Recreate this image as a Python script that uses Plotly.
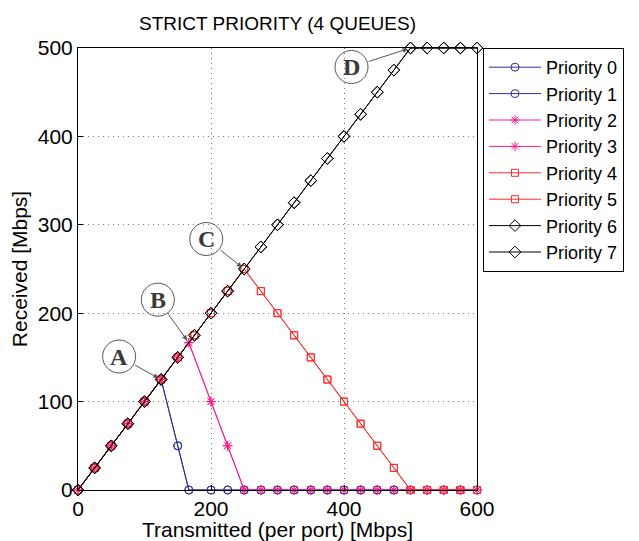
import numpy as np
import plotly.graph_objects as go

# ---------------- data ----------------
x_p01 = [0, 25, 50, 75, 100, 125, 150, 166.67, 200, 225, 250, 275, 300, 325, 350, 375,
         400, 425, 450, 475, 500, 525, 550, 575, 600]
y_p01 = [0, 25, 50, 75, 100, 125, 50, 0, 0, 0, 0, 0, 0, 0, 0, 0,
         0, 0, 0, 0, 0, 0, 0, 0, 0]

x_p23 = [0, 25, 50, 75, 100, 125, 150, 166.67, 200, 225, 250, 275, 300, 325, 350, 375,
         400, 425, 450, 475, 500, 525, 550, 575, 600]
y_p23 = [0, 25, 50, 75, 100, 125, 150, 166.67, 100, 50, 0, 0, 0, 0, 0, 0,
         0, 0, 0, 0, 0, 0, 0, 0, 0]

x_p45 = [0, 25, 50, 75, 100, 125, 150, 175, 200, 225, 250, 275, 300, 325, 350, 375,
         400, 425, 450, 475, 500, 525, 550, 575, 600]
y_p45 = [0, 25, 50, 75, 100, 125, 150, 175, 200, 225, 250, 225, 200, 175, 150, 125,
         100, 75, 50, 25, 0, 0, 0, 0, 0]

x_p67 = [0, 25, 50, 75, 100, 125, 150, 175, 200, 225, 250, 275, 300, 325, 350, 375,
         400, 425, 450, 475, 500, 525, 550, 575, 600]
y_p67 = [0, 25, 50, 75, 100, 125, 150, 175, 200, 225, 250, 275, 300, 325, 350, 375,
         400, 425, 450, 475, 500, 500, 500, 500, 500]

series_names = ["Priority 0", "Priority 1", "Priority 2", "Priority 3",
                "Priority 4", "Priority 5", "Priority 6", "Priority 7"]
x_ticks = [0, 200, 400, 600]
y_ticks = [0, 100, 200, 300, 400, 500]
labels = ["A", "B", "C", "D"]

# ---------------- style ----------------
BLUE = "#2f2fa0"
PINK = "#ff1a8c"
RED = "#ff2a2a"
BLACK = "#000000"
FONT = "Liberation Sans, Arial, sans-serif"

styles = [
    (x_p01, y_p01, BLUE, "circle-open", 8),
    (x_p01, y_p01, BLUE, "circle-open", 8),
    (x_p23, y_p23, PINK, "asterisk-open", 8),
    (x_p23, y_p23, PINK, "asterisk-open", 8),
    (x_p45, y_p45, RED, "square-open", 7),
    (x_p45, y_p45, RED, "square-open", 7),
    (x_p67, y_p67, BLACK, "diamond-open", 9),
    (x_p67, y_p67, BLACK, "diamond-open", 9),
]

fig = go.Figure()
for name, (xs, ys, col, sym, sz) in zip(series_names, styles):
    fig.add_trace(go.Scatter(
        x=xs, y=ys, name=name, mode="lines+markers",
        line=dict(color=col, width=1),
        marker=dict(symbol=sym, size=sz, color=col, line=dict(color=col, width=1)),
        cliponaxis=False,
    ))

# knee points (from data)
def knee(xs, ys):
    i = int(np.argmax(ys))
    return xs[i], ys[i]

targets = [knee(x_p01, y_p01), knee(x_p23, y_p23), knee(x_p45, y_p45), knee(x_p67, y_p67)]
# circle centre offsets in screen pixels (dx right, dy down)
offsets = [(-42, -23), (-31, -43), (-38, -30), (-59, 19)]
R = 16.5
GRAY = "#555555"

shapes = []
annotations = []
for lab, (tx, ty), (dx, dy) in zip(labels, targets, offsets):
    shapes.append(dict(
        type="circle", xref="x", yref="y", xsizemode="pixel", ysizemode="pixel",
        xanchor=tx, yanchor=ty, x0=dx - R, x1=dx + R, y0=-dy - R, y1=-dy + R,
        line=dict(color=GRAY, width=1), fillcolor="rgba(0,0,0,0)", layer="above",
    ))
    annotations.append(dict(
        x=tx, y=ty, xref="x", yref="y", text="", showarrow=True,
        ax=dx, ay=dy, arrowhead=2, arrowsize=1, arrowwidth=1, arrowcolor=GRAY,
        standoff=3, startstandoff=R,
    ))
    annotations.append(dict(
        x=tx, y=ty, xref="x", yref="y", text="<b>%s</b>" % lab, showarrow=False,
        xshift=dx, yshift=-dy, xanchor="center", yanchor="middle",
        font=dict(family="Liberation Serif, Times New Roman, serif", size=24, color="#3a3a3a"),
    ))

axis_common = dict(
    showline=True, linecolor="black", linewidth=1, mirror=True,
    ticks="inside", ticklen=5, tickcolor="black",
    showgrid=True, gridcolor="#777777", griddash="1px,4px", gridwidth=1,
    zeroline=False, tickfont=dict(family=FONT, size=21, color="black"),
)

fig.update_layout(
    width=639, height=541,
    margin=dict(l=78, r=162, t=48, b=51, autoexpand=False),
    paper_bgcolor="white", plot_bgcolor="white",
    title=dict(text="STRICT PRIORITY (4 QUEUES)", x=0.5, xref="paper",
               y=1 - 23 / 541, yref="container", yanchor="middle", xanchor="center",
               font=dict(family=FONT, size=19, color="black")),
    xaxis=dict(range=[0, 600], tickvals=x_ticks,
               title=dict(text="Transmitted (per port) [Mbps]", standoff=0,
                          font=dict(family=FONT, size=21, color="black")),
               **axis_common),
    yaxis=dict(range=[0, 500], tickvals=y_ticks,
               title=dict(text="Received [Mbps]", standoff=4,
                          font=dict(family=FONT, size=21, color="black")),
               **axis_common),
    legend=dict(x=1.015, y=1, xanchor="left", yanchor="top",
                bordercolor="black", borderwidth=1, bgcolor="white",
                font=dict(family=FONT, size=18, color="black"),
                itemwidth=52, tracegroupgap=0),
    shapes=shapes, annotations=annotations,
    showlegend=True,
)

fig.write_html("out.html")
